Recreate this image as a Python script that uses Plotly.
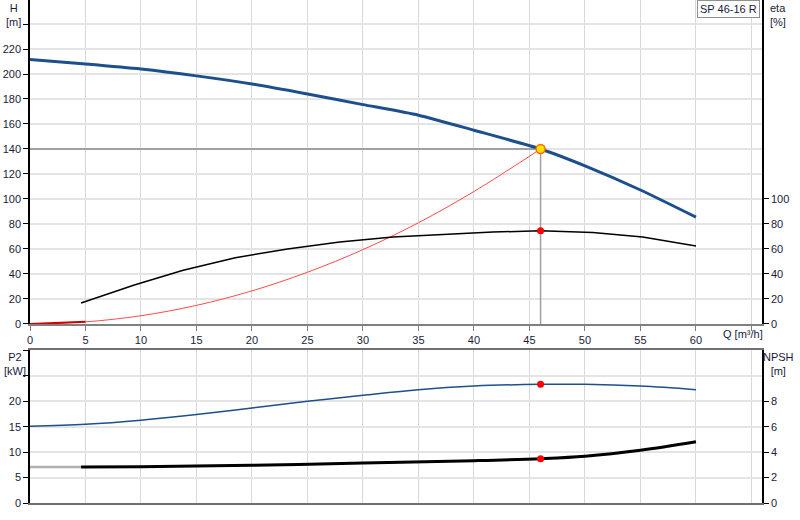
import plotly.graph_objects as go

# ---------------- data
q_h = [0, 5, 10, 15, 20, 25, 30, 35, 40, 46, 50, 55, 60]
h = [211.5, 208, 204, 198.5, 192, 184, 175.5, 167, 155, 140, 126.5, 107.2, 85.5]

q_eta = [4.6, 9.4, 13.8, 18.5, 23.2, 27.9, 32.7, 37.4, 41.7, 46, 50.7, 55.2, 60]
eta = [16.8, 31.2, 43, 53, 60, 65.6, 69.6, 72, 73.6, 74.5, 73.2, 69.5, 62.4]

q_sys = [0, 5, 10, 15, 20, 25, 30, 35, 40, 46]
h_sys = [0, 1.7, 6.6, 14.9, 26.5, 41.4, 59.5, 81, 106, 140]

q_p2 = [0, 5, 10, 15, 20, 25, 30, 35, 40, 46, 50, 55, 60]
p2 = [15.1, 15.5, 16.3, 17.4, 18.7, 20.0, 21.2, 22.3, 23.0, 23.35, 23.35, 23.0, 22.3]

q_npsh = [4.6, 10, 20, 30, 40, 46, 50, 55, 60]
npsh = [2.83, 2.85, 2.97, 3.14, 3.33, 3.49, 3.68, 4.15, 4.82]

duty_q = 46
duty_h = 140
duty_eta = 74.5
duty_p2 = 23.35
duty_npsh = 3.49

x_ticks = list(range(0, 66, 5))
x_text = [str(v) for v in range(0, 61, 5)] + [""]
h_ticks = list(range(0, 241, 20))
h_text = [str(v) for v in range(0, 221, 20)] + [""]
eta_ticks = list(range(0, 101, 20))
p2_ticks = list(range(0, 31, 5))
p2_text = [str(v) for v in range(0, 21, 5)] + ["", ""]
npsh_ticks = list(range(0, 9, 2))

model = "SP 46-16 R"

#-------------- colours
blue = "#1c4f8c"
txt = "#1a1a3a"
font = dict(family="Liberation Sans, Arial", size=11, color=txt)

fig = go.Figure()

# top plot: H, eta, system curve
fig.add_trace(go.Scatter(x=[0, duty_q], y=[duty_h, duty_h], mode="lines",
                         line=dict(color="#a0a0a0", width=2), xaxis="x", yaxis="y"))
fig.add_trace(go.Scatter(x=[duty_q, duty_q], y=[0, duty_h], mode="lines",
                         line=dict(color="#a0a0a0", width=1.5), xaxis="x", yaxis="y"))
fig.add_trace(go.Scatter(x=q_sys, y=h_sys, mode="lines", line_shape="spline",
                         line=dict(color="#ff4a4a", width=1), xaxis="x", yaxis="y"))
fig.add_trace(go.Scatter(x=q_sys[:2], y=h_sys[:2], mode="lines",
                         line=dict(color="#d00000", width=2), xaxis="x", yaxis="y"))
fig.add_trace(go.Scatter(x=q_eta, y=eta, mode="lines",
                         line=dict(color="black", width=1.5), xaxis="x", yaxis="y2"))
fig.add_trace(go.Scatter(x=q_h, y=h, mode="lines", line_shape="spline",
                         line=dict(color=blue, width=3, smoothing=0.6), xaxis="x", yaxis="y"))
fig.add_trace(go.Scatter(x=[duty_q], y=[duty_eta], mode="markers",
                         marker=dict(color="red", size=7), xaxis="x", yaxis="y2"))
fig.add_trace(go.Scatter(x=[duty_q], y=[duty_h], mode="markers",
                         marker=dict(color="#ffe000", size=9, line=dict(color="#ff6a00", width=1.5)),
                         xaxis="x", yaxis="y"))

# bottom plot: P2, NPSH
fig.add_trace(go.Scatter(x=q_p2, y=p2, mode="lines", line_shape="spline",
                         line=dict(color=blue, width=1.5), xaxis="x2", yaxis="y3"))
fig.add_trace(go.Scatter(x=[0, q_npsh[0]], y=[npsh[0], npsh[0]], mode="lines",
                         line=dict(color="#b0b0b0", width=2.5), xaxis="x2", yaxis="y4"))
fig.add_trace(go.Scatter(x=q_npsh, y=npsh, mode="lines", line_shape="spline",
                         line=dict(color="black", width=3), xaxis="x2", yaxis="y4"))
fig.add_trace(go.Scatter(x=[duty_q], y=[duty_p2], mode="markers",
                         marker=dict(color="red", size=7), xaxis="x2", yaxis="y3"))
fig.add_trace(go.Scatter(x=[duty_q], y=[duty_npsh], mode="markers",
                         marker=dict(color="red", size=7), xaxis="x2", yaxis="y4"))

x_range = [0, 65.95]
grid_x = dict(showgrid=True, gridcolor="#d8d8d8", gridwidth=1, zeroline=False, automargin=False)
grid_y = dict(showgrid=True, gridcolor="#e4e4e4", gridwidth=2, zeroline=False, automargin=False)

fig.update_layout(
    width=800, height=520,
    margin=dict(l=30, r=38, t=0, b=17, autoexpand=False),
    paper_bgcolor="white", plot_bgcolor="white",
    showlegend=False,
    font=font,
    xaxis=dict(domain=[0, 1], range=x_range, anchor="y", tickvals=x_ticks, ticktext=x_text,
               showline=True, linecolor="#808080", linewidth=2, ticks="outside",
               tickcolor="#808080", ticklen=5, **grid_x),
    yaxis=dict(domain=[0.3559, 1], range=[0, 259.2], anchor="x", tickvals=h_ticks, ticktext=h_text,
               showline=True, linecolor="black", linewidth=1.5, ticks="outside",
               tickcolor="black", ticklen=5, **grid_y),
    yaxis2=dict(overlaying="y", side="right", range=[0, 259.2], anchor="x", tickvals=eta_ticks,
                showline=True, linecolor="black", linewidth=1.5, ticks="outside",
                tickcolor="black", ticklen=5, showgrid=False, zeroline=False, automargin=False),
    xaxis2=dict(domain=[0, 1], range=x_range, anchor="y3", tickvals=x_ticks, showticklabels=False,
                showline=True, mirror=True, linecolor="#707070", linewidth=2, **grid_x),
    yaxis3=dict(domain=[0, 0.3032], range=[0, 30], anchor="x2", tickvals=p2_ticks, ticktext=p2_text,
                showline=True, linecolor="black", linewidth=1.5, ticks="outside",
                tickcolor="black", ticklen=5, **grid_y),
    yaxis4=dict(overlaying="y3", side="right", range=[0, 12], anchor="x2", tickvals=npsh_ticks,
                showline=True, linecolor="black", linewidth=1.5, ticks="outside",
                tickcolor="black", ticklen=5, showgrid=False, zeroline=False, automargin=False),
)

fig.add_annotation(text="H<br>[m]", x=-0.0232, y=1.0, xref="paper", yref="paper",
                   xanchor="center", yanchor="top", showarrow=False, font=font)
fig.add_annotation(text="eta<br>[%]", x=1.008, y=1.0, xref="paper", yref="paper",
                   xanchor="left", yanchor="top", align="left", showarrow=False, font=font)
fig.add_annotation(text="P2<br>[kW]", x=-0.021, y=0.306, xref="paper", yref="paper",
                   xanchor="center", yanchor="top", showarrow=False, font=font)
fig.add_annotation(text="NPSH<br>[m]", x=1.023, y=0.306, xref="paper", yref="paper",
                   xanchor="center", yanchor="top", showarrow=False, font=font)
fig.add_annotation(text="Q [m³/h]", x=0.944, y=0.336, xref="paper", yref="paper",
                   xanchor="left", yanchor="middle", showarrow=False, font=font)
fig.add_annotation(text=model, x=0.997, y=1.0, xref="paper", yref="paper",
                   xanchor="right", yanchor="top", showarrow=False, font=font,
                   bgcolor="white", bordercolor="#909090", borderwidth=1, borderpad=2)

# the page body has a default 8px margin; drop it so the figure sits at 0,0
fig.write_html("out.html", config={"displayModeBar": False},
               post_script="document.body.style.margin='0';")
